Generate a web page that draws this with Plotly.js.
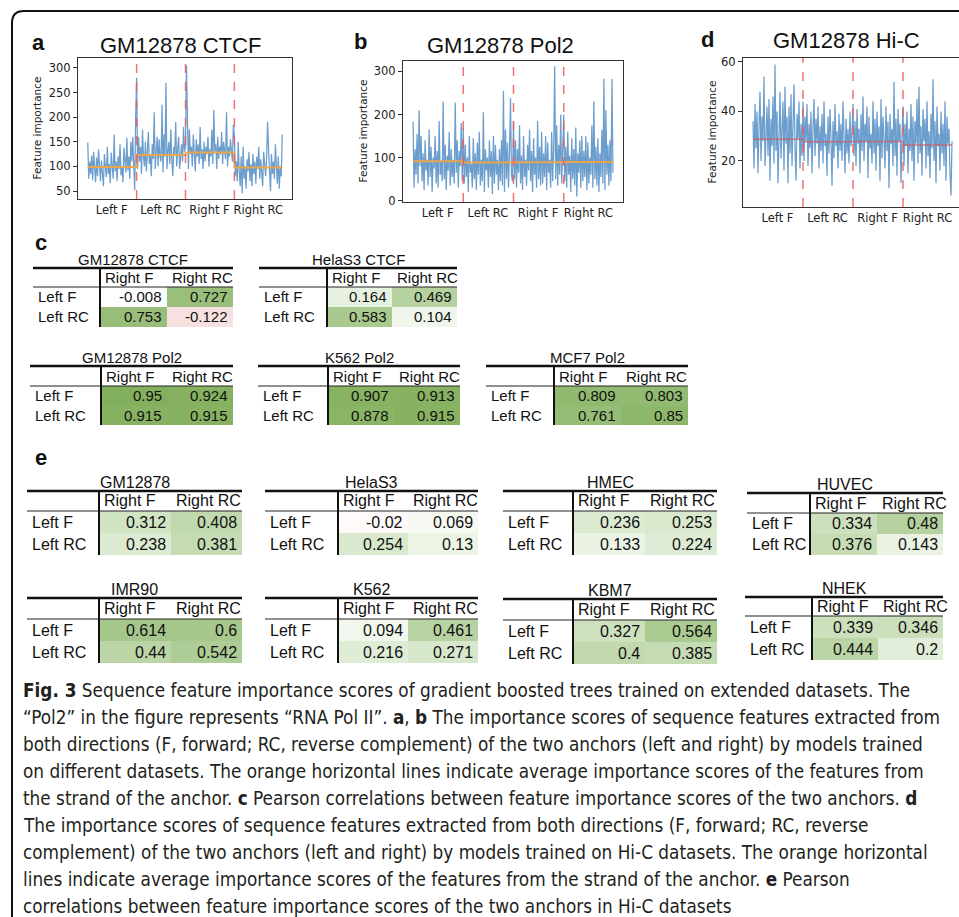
<!DOCTYPE html>
<html><head><meta charset="utf-8">
<script src="https://cdn.plot.ly/plotly-3.0.1.min.js"></script>
<style>html,body{margin:0;padding:0;background:#fff}#fig{width:959px;height:917px}</style>
</head><body><div id="fig"></div>
<script>
const W = 959, H = 917;
const X = p => p / W, Y = p => 1 - p / H;

// ---------- data: line panels ----------
const segmentLabels = ['Left F', 'Left RC', 'Right F', 'Right RC'];

const ctcfLeftF = [148,75,110,85,122,72,130,90,68,118,80,135,95,70,112,88,60,125,92,78,140,85,105,66,128,98,75,165,90,110,70,120,95,145,82,100,68,138,105,88,158,92,120,75,150,110,160,85,52,200];
const ctcfLeftRC = [280,95,160,110,140,85,175,120,100,150,90,130,170,105,125,80,145,115,210,95,135,160,100,155,120,110,225,88,165,120,270,95,130,150,105,175,115,80,140,125,190,100,135,160,95,120,145,110,180,130];
const ctcfRightF = [140,305,150,95,175,125,140,100,165,130,90,155,120,145,105,180,115,135,95,150,110,140,125,160,100,135,120,175,105,215,130,145,95,160,115,140,125,170,105,150,135,115,210,100,140,120,155,130,110,185];
const ctcfRightRC = [165,80,110,70,150,90,60,120,45,140,75,100,55,115,90,130,70,105,60,125,85,110,65,120,95,140,75,115,90,60,130,100,80,115,190,135,95,50,125,85,110,75,145,90,65,120,55,100,80,165];
const ctcfMeans = [99, 123.5, 128.5, 98];

const pol2LeftF = [183,30,120,60,155,40,210,80,150,45,110,25,140,70,95,35,165,55,125,20,100,75,150,40,115,30,185,60,90,45,230,50,130,25,105,70,160,35,120,55,95,40,228,65,140,30,115,80,180,45];
const pol2LeftRC = [170,40,130,55,100,20,150,65,85,30,145,50,110,25,135,60,160,35,95,45,205,20,120,70,100,30,140,55,115,15,150,40,130,60,95,25,120,45,140,35,255,20,165,50,135,30,110,238,60,45];
const pol2RightF = [185,50,140,30,120,65,175,40,105,25,150,55,95,35,130,70,165,45,115,20,145,60,100,30,185,50,125,35,160,40,110,55,150,25,135,65,95,30,160,45,120,312,50,175,35,130,60,200,40,145];
const pol2RightRC = [200,45,125,30,160,60,105,20,145,50,120,35,170,10,110,65,140,30,150,45,115,55,150,25,135,40,100,60,175,30,230,50,125,35,145,20,110,55,165,40,283,25,210,60,130,35,140,45,282,65];
const pol2Means = [91.5, 88.5, 89, 90];

const hicLeftF = [36,17,43,25,40,15,34,48,20,38,28,54,18,33,42,22,45,12,37,26,46,19,59,24,40,11,35,48,21,30,44,16,50,27,38,11,42,23,47,18,36,51,25,12,39,29,44,17,35,22];
const hicLeftRC = [44,20,38,28,43,18,35,25,40,15,33,45,22,37,27,42,17,34,24,39,19,44,26,31,14,38,23,41,29,10,36,21,43,26,32,17,39,24,35,20,44,28,15,37,23,33,19,40,26,30];
const hicRightF = [43,22,36,18,41,27,33,15,39,24,46,20,35,28,42,13,38,25,31,19,44,23,37,16,40,26,34,12,45,21,38,29,17,42,24,36,9,39,27,33,18,52,22,37,14,41,28,35,11,30];
const hicRightRC = [42,18,35,26,40,15,33,24,43,20,38,12,36,27,45,19,50,23,34,14,41,28,37,17,44,22,32,13,39,25,53,20,36,11,42,26,31,16,40,23,35,18,44,12,38,27,33,15,6,28];
const hicMeans = [28.8, 27.8, 27.9, 26.4];

const ctcfTicks = [50,100,150,200,250,300];
const pol2Ticks = [0,100,200,300];
const hicTicks = [20,40,60];

// ---------- data: correlation tables ----------
const tableCols = ['Right F', 'Right RC'];
const tableRows = ['Left F', 'Left RC'];
const tableNames = ['GM12878 CTCF','HelaS3 CTCF','GM12878 Pol2','K562 Pol2','MCF7 Pol2',
  'GM12878','HelaS3','HMEC','HUVEC','IMR90','K562','KBM7','NHEK'];
const corrGM12878CTCF = [[-0.008, 0.727],[0.753, -0.122]];
const corrHelaS3CTCF  = [[0.164, 0.469],[0.583, 0.104]];
const corrGM12878Pol2 = [[0.95, 0.924],[0.915, 0.915]];
const corrK562Pol2    = [[0.907, 0.913],[0.878, 0.915]];
const corrMCF7Pol2    = [[0.809, 0.803],[0.761, 0.85]];
const hicGM12878 = [[0.312, 0.408],[0.238, 0.381]];
const hicHelaS3  = [[-0.02, 0.069],[0.254, 0.13]];
const hicHMEC    = [[0.236, 0.253],[0.133, 0.224]];
const hicHUVEC   = [[0.334, 0.48],[0.376, 0.143]];
const hicIMR90   = [[0.614, 0.6],[0.44, 0.542]];
const hicK562    = [[0.094, 0.461],[0.216, 0.271]];
const hicKBM7    = [[0.327, 0.564],[0.4, 0.385]];
const hicNHEK    = [[0.339, 0.346],[0.444, 0.2]];
const tableValues = [corrGM12878CTCF, corrHelaS3CTCF, corrGM12878Pol2, corrK562Pol2, corrMCF7Pol2,
  hicGM12878, hicHelaS3, hicHMEC, hicHUVEC, hicIMR90, hicK562, hicKBM7, hicNHEK];

// ---------- layout geometry (pixels) ----------
// [left, verticalLine, right, topLine, headerLine, bottom, fontSize]
const tableGeom = [
  [33,100,233,268,287,327,15],
  [259,327,457,268,287,327,15],
  [30,101,233,366,386,425,15],
  [258,328,460,366,386,425,15],
  [486,554,688,366,386,425,15],
  [27,99,242,491,511,555,16],
  [265,338,478,491,511,555,16],
  [503,573,717,491,511,555,16],
  [747,810,943,493,513,555,16],
  [27,99,242,598,619,663,16],
  [265,338,478,598,619,663,16],
  [503,573,717,599,620,664,16],
  [745,812,943,597,616,660,16]
];

const SANS = 'Liberation Sans, Arial, Helvetica, sans-serif';
const MPL = 'DejaVu Sans, sans-serif';
const CAP = 'Liberation Sans Narrow, DejaVu Sans Condensed, Roboto Condensed, Liberation Sans, sans-serif';

const charts = [
  {segs:[ctcfLeftF,ctcfLeftRC,ctcfRightF,ctcfRightRC], means:ctcfMeans, ticks:ctcfTicks,
   box:[78,292,58,199], yr:[34,320], xr:[-10,209], title:'GM12878 CTCF', tx:180, ty:45,
   letter:'a', lx:38, ly:43, ytx:37, mirrorY:true, meanColor:'rgba(240,165,70,0.95)', meanW:2},
  {segs:[pol2LeftF,pol2LeftRC,pol2RightF,pol2RightRC], means:pol2Means, ticks:pol2Ticks,
   box:[403,623,61,202], yr:[-3,324], xr:[-10,209], title:'GM12878 Pol2', tx:500, ty:45,
   letter:'b', lx:360, ly:42, ytx:362, mirrorY:true, meanColor:'rgba(240,165,70,0.95)', meanW:2},
  {segs:[hicLeftF,hicLeftRC,hicRightF,hicRightRC], means:hicMeans, ticks:hicTicks,
   box:[743,959,58,207], yr:[1.4,61.6], xr:[-10,206], title:'GM12878 Hi-C', tx:846, ty:41,
   letter:'d', lx:707, ly:39, ytx:711, mirrorY:false, meanColor:'rgba(200,95,100,0.75)', meanW:1.5}
];

const traces = [];
const layout = {
  width: W, height: H, margin: {l:0, r:0, t:0, b:0}, paper_bgcolor:'#fff', plot_bgcolor:'#fff',
  showlegend:false, annotations:[], shapes:[]
};

charts.forEach((c, k) => {
  const s = k === 0 ? '' : String(k + 1);
  const N = c.segs[0].length;
  const y = [].concat(...c.segs);
  const x = y.map((_, i) => i);
  traces.push({type:'scatter', mode:'lines', x, y, xaxis:'x'+s, yaxis:'y'+s,
    line:{color:'rgba(70,132,192,0.8)', width:1.25}, hoverinfo:'skip'});
  const mx = c.means.map((_, j) => j * N).concat([y.length - 1]);
  const my = c.means.concat([c.means[c.means.length - 1]]);
  traces.push({type:'scatter', mode:'lines', x:mx, y:my, xaxis:'x'+s, yaxis:'y'+s,
    line:{color:c.meanColor, width:c.meanW, shape:'hv'}, hoverinfo:'skip'});
  const [l, r, t, b] = c.box;
  layout['xaxis'+s] = {domain:[X(l), X(r)], range:c.xr, anchor:'y'+s, showline:true, mirror:true,
    linecolor:'#333', linewidth:1, ticks:'', showgrid:false, zeroline:false,
    tickvals: segmentLabels.map((_, j) => j * N + (N - 1) / 2), ticktext: segmentLabels,
    tickfont:{family:MPL, size:11.5, color:'#222'}, fixedrange:true};
  layout['yaxis'+s] = {domain:[Y(b), Y(t)], range:c.yr, anchor:'x'+s, showline:true, mirror:c.mirrorY,
    linecolor:'#333', linewidth:1, ticks:'outside', ticklen:4, tickcolor:'#333', showgrid:false,
    zeroline:false, tickvals:c.ticks, tickfont:{family:MPL, size:11.5, color:'#222'}, fixedrange:true};
  for (let j = 1; j < c.segs.length; j++) {
    layout.shapes.push({type:'line', xref:'x'+s, yref:'y'+s+' domain', x0:j*N, x1:j*N, y0:0, y1:1,
      line:{color:'rgba(240,90,90,0.85)', width:1.5, dash:'dash'}});
  }
  layout.annotations.push({xref:'paper', yref:'paper', x:X(c.tx), y:Y(c.ty), text:c.title,
    showarrow:false, xanchor:'center', yanchor:'middle', font:{family:SANS, size:22, color:'#111'}});
  layout.annotations.push({xref:'paper', yref:'paper', x:X(c.lx), y:Y(c.ly), text:'<b>'+c.letter+'</b>',
    showarrow:false, xanchor:'center', yanchor:'middle', font:{family:SANS, size:22, color:'#111'}});
  layout.annotations.push({xref:'paper', yref:'paper', x:X(c.ytx), y:Y((t + b) / 2), text:'Feature importance',
    showarrow:false, textangle:-90, xanchor:'center', yanchor:'middle', font:{family:MPL, size:10.5, color:'#222'}});
});

// ---------- tables ----------
const corrScale = [
  [0, 'rgb(181,0,0)'], [0.5, 'rgb(255,255,255)'], [0.625, 'rgb(218,233,207)'],
  [0.75, 'rgb(178,207,155)'], [1, 'rgb(125,172,85)']
];
tableValues.forEach((vals, ti) => {
  const n = 4 + ti;
  const [l, v, r, top, hb, bot, fs] = tableGeom[ti];
  traces.push({type:'heatmap', z:vals, x:tableCols.map((_, j) => j), y:tableRows.map((_, i) => i),
    xaxis:'x'+n, yaxis:'y'+n, colorscale:corrScale, zmin:-1, zmax:1, showscale:false, hoverinfo:'skip'});
  layout['xaxis'+n] = {domain:[X(v), X(r)], range:[-0.5, 1.5], anchor:'y'+n, visible:false, fixedrange:true};
  layout['yaxis'+n] = {domain:[Y(bot), Y(hb)], range:[1.5, -0.5], anchor:'x'+n, visible:false, fixedrange:true};
  const font = {family:SANS, size:fs, color:'#111'};
  vals.forEach((row, i) => row.forEach((val, j) => {
    layout.annotations.push({xref:'x'+n, yref:'y'+n, x:j + 0.5, y:i, text:String(val), showarrow:false,
      xanchor:'right', yanchor:'middle', xshift:-3, font});
  }));
  tableCols.forEach((cl, j) => layout.annotations.push({xref:'x'+n, yref:'paper', x:j - 0.5, y:Y((top + hb) / 2),
    text:cl, showarrow:false, xanchor:'left', yanchor:'middle', xshift:3, font}));
  tableRows.forEach((rl, i) => layout.annotations.push({xref:'paper', yref:'y'+n, x:X(l + 3), y:i,
    text:rl, showarrow:false, xanchor:'left', yanchor:'middle', font}));
  layout.annotations.push({xref:'paper', yref:'paper', x:X((l + r) / 2), y:Y(top - 9), text:tableNames[ti],
    showarrow:false, xanchor:'center', yanchor:'middle', font});
  layout.shapes.push({type:'line', xref:'paper', yref:'paper', x0:X(l), x1:X(r), y0:Y(top), y1:Y(top), line:{color:'#111', width:2.5}});
  layout.shapes.push({type:'line', xref:'paper', yref:'paper', x0:X(l), x1:X(r), y0:Y(hb), y1:Y(hb), line:{color:'#222', width:1}});
  layout.shapes.push({type:'line', xref:'paper', yref:'paper', x0:X(v), x1:X(v), y0:Y(top), y1:Y(bot), line:{color:'#111', width:2}});
});

// panel letters for tables
[['c', 33, 243], ['e', 33, 457]].forEach(([t, x, y]) => layout.annotations.push({xref:'paper', yref:'paper',
  x:X(x), y:Y(y), text:'<b>'+t+'</b>', showarrow:false, xanchor:'left', yanchor:'middle', font:{family:SANS, size:22, color:'#111'}}));

// ---------- caption ----------
const captionLines = [
  '<b>Fig. 3</b> Sequence feature importance scores of gradient boosted trees trained on extended datasets. The',
  '\u201cPol2\u201d in the figure represents \u201cRNA Pol II\u201d. <b>a</b>, <b>b</b> The importance scores of sequence features extracted from',
  'both directions (F, forward; RC, reverse complement) of the two anchors (left and right) by models trained',
  'on different datasets. The orange horizontal lines indicate average importance scores of the features from',
  'the strand of the anchor. <b>c</b> Pearson correlations between feature importance scores of the two anchors. <b>d</b>',
  'The importance scores of sequence features extracted from both directions (F, forward; RC, reverse',
  'complement) of the two anchors (left and right) by models trained on Hi-C datasets. The orange horizontal',
  'lines indicate average importance scores of the features from the strand of the anchor. <b>e</b> Pearson',
  'correlations between feature importance scores of the two anchors in Hi-C datasets'
];
captionLines.forEach((t, i) => layout.annotations.push({xref:'paper', yref:'paper', x:X(21), y:Y(690 + i * 27.1),
  text:t, showarrow:false, xanchor:'left', yanchor:'middle', font:{family:CAP, size:18.8, color:'#231f20'}}));

// frame
layout.shapes.push({type:'path', xref:'paper', yref:'paper',
  path:`M ${X(12)},${Y(930)} L ${X(12)},${Y(23)} Q ${X(12)},${Y(11)} ${X(24)},${Y(11)} L ${X(965)},${Y(11)}`,
  line:{color:'#111', width:2}});

Plotly.newPlot('fig', traces, layout, {staticPlot:true, displayModeBar:false});
</script></body></html>
